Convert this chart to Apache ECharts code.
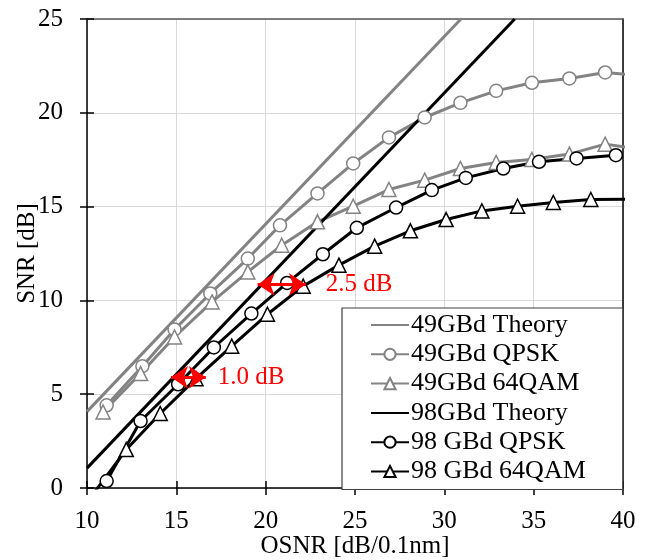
<!DOCTYPE html>
<html>
<head>
<meta charset="utf-8">
<script src="https://cdn.jsdelivr.net/npm/echarts@6/dist/echarts.min.js"></script>
<style>html,body{margin:0;padding:0;background:#fff;}#c{width:652px;height:560px;}</style>
</head>
<body>
<div id="c"></div>
<script>
// ---- data (OSNR [dB/0.1nm], SNR [dB]) ----
const seriesNames = ['49GBd Theory', '49GBd QPSK', '49GBd 64QAM', '98GBd Theory', '98 GBd QPSK', '98 GBd 64QAM'];
const theory49 = [[10, 4.07], [30.93, 25]];
const qpsk49 = [[11.1, 4.41], [13.1, 6.49], [14.9, 8.45], [16.9, 10.37], [19.0, 12.23], [20.8, 14.0], [22.9, 15.7], [24.9, 17.3], [26.9, 18.69], [28.9, 19.75], [30.9, 20.53], [32.9, 21.17], [34.9, 21.6], [37.0, 21.83], [39.0, 22.15], [41.0, 21.97]];
const qam49 = [[10.9, 4.05], [13.0, 6.1], [14.9, 8.05], [17.0, 9.92], [19.0, 11.52], [20.9, 12.94], [22.9, 14.19], [24.9, 15.02], [26.9, 15.91], [28.9, 16.41], [30.9, 17.03], [32.9, 17.35], [34.9, 17.51], [37.0, 17.8], [39.0, 18.33], [41.0, 18.05]];
const theory98 = [[10, 1.06], [33.94, 25]];
const qpsk98 = [[11.1, 0.37], [13.0, 3.57], [15.1, 5.53], [17.1, 7.49], [19.2, 9.3], [21.2, 10.93], [23.2, 12.46], [25.1, 13.87], [27.3, 14.95], [29.3, 15.88], [31.2, 16.53], [33.3, 17.03], [35.3, 17.39], [37.4, 17.57], [39.6, 17.74]];
const qam98 = [[10.2, -0.5], [12.2, 2.05], [14.1, 3.97], [16.1, 5.83], [18.1, 7.56], [20.1, 9.26], [22.1, 10.76], [24.1, 11.88], [26.1, 12.89], [28.1, 13.71], [30.1, 14.31], [32.1, 14.77], [34.1, 15.02], [36.1, 15.22], [38.2, 15.38], [40.3, 15.4]];
// penalty arrows: [x1, x2, y, label]
const arrowA = [19.55, 22.25, 10.85, '2.5 dB'];
const arrowB = [14.7, 16.65, 5.9, '1.0 dB'];
const xTicks = [10, 15, 20, 25, 30, 35, 40];
const yTicks = [0, 5, 10, 15, 20, 25];

const FONT = '"Liberation Serif", "Times New Roman", serif';
const GRAY = '#838383';
const RED = '#ff0000';

function arrowLine(a, dist) {
  return [
    { coord: [a[0], a[2]], symbol: 'arrow' },
    { coord: [a[1], a[2]], symbol: 'arrow',
      label: { show: true, position: 'end', formatter: a[3], color: RED, fontSize: 25, fontFamily: FONT, distance: dist } }
  ];
}

const chart = echarts.init(document.getElementById('c'), null, { renderer: 'canvas' });
const baseAxisLabel = { fontSize: 25, fontFamily: FONT, color: '#000' };
const noSymbolStyle = { color: 'rgba(0,0,0,0)', borderWidth: 0 };
chart.setOption({
  backgroundColor: '#fff',
  animation: false,
  grid: { left: 87, right: 29, top: 19, bottom: 72, containLabel: false, outerBoundsMode: 'none' },
  xAxis: [
    { type: 'value', min: xTicks[0], max: xTicks[xTicks.length - 1], interval: 5, position: 'bottom',
      name: 'OSNR [dB/0.1nm]', nameLocation: 'middle', nameGap: 46, nameMoveOverlap: false,
      nameTextStyle: { fontSize: 25, fontFamily: FONT, color: '#000' },
      axisLine: { show: true, onZero: false, lineStyle: { color: '#000', width: 1.5 } },
      axisTick: { show: true, length: 7, inside: false, lineStyle: { color: '#000', width: 1.5 } },
      axisLabel: Object.assign({ margin: 21 }, baseAxisLabel),
      splitLine: { show: true, lineStyle: { color: '#d9d9d9', width: 1 } } },
    { type: 'value', min: xTicks[0], max: xTicks[xTicks.length - 1], interval: 5, position: 'bottom',
      axisLine: { show: false },
      axisTick: { show: true, length: 7, inside: true, lineStyle: { color: '#000', width: 1.5 } },
      axisLabel: { show: false }, splitLine: { show: false } },
    { type: 'value', min: xTicks[0], max: xTicks[xTicks.length - 1], position: 'top',
      axisLine: { show: true, onZero: false, lineStyle: { color: '#595959', width: 1.5 } },
      axisTick: { show: false }, axisLabel: { show: false }, splitLine: { show: false } }
  ],
  yAxis: [
    { type: 'value', min: yTicks[0], max: yTicks[yTicks.length - 1], interval: 5, position: 'left',
      name: 'SNR [dB]', nameLocation: 'middle', nameGap: 47, nameRotate: 90, nameMoveOverlap: false,
      nameTextStyle: { fontSize: 25, fontFamily: FONT, color: '#000' },
      axisLine: { show: true, onZero: false, lineStyle: { color: '#000', width: 1.5 } },
      axisTick: { show: true, length: 7, inside: false, lineStyle: { color: '#000', width: 1.5 } },
      axisLabel: Object.assign({ margin: 24 }, baseAxisLabel),
      splitLine: { show: true, lineStyle: { color: '#d9d9d9', width: 1 } } },
    { type: 'value', min: yTicks[0], max: yTicks[yTicks.length - 1], interval: 5, position: 'left',
      axisLine: { show: false },
      axisTick: { show: true, length: 7, inside: true, lineStyle: { color: '#000', width: 1.5 } },
      axisLabel: { show: false }, splitLine: { show: false } },
    { type: 'value', min: yTicks[0], max: yTicks[yTicks.length - 1], position: 'right',
      axisLine: { show: true, onZero: false, lineStyle: { color: '#000', width: 1.5 } },
      axisTick: { show: false }, axisLabel: { show: false }, splitLine: { show: false } }
  ],
  legend: {
    orient: 'vertical', left: 342, top: 308,
    data: seriesNames,
    itemWidth: 38, itemHeight: 14, itemGap: 3.3,
    padding: [4, 37, 5, 28],
    backgroundColor: '#fff', borderColor: '#404040', borderWidth: 1.2,
    textStyle: { fontSize: 26, fontFamily: FONT, color: '#000', padding: [0, 0, 0, -3] }
  },
  series: [
    { name: seriesNames[0], type: 'line', data: theory49, symbol: 'none', clip: true,
      lineStyle: { color: GRAY, width: 3 }, itemStyle: noSymbolStyle },
    { name: seriesNames[1], type: 'line', data: qpsk49, symbol: 'circle', symbolSize: 13, clip: true,
      lineStyle: { color: GRAY, width: 3 }, itemStyle: { color: '#fff', borderColor: GRAY, borderWidth: 1.5 } },
    { name: seriesNames[2], type: 'line', data: qam49, symbol: 'triangle', symbolSize: 14, clip: true,
      lineStyle: { color: GRAY, width: 3 }, itemStyle: { color: '#fff', borderColor: GRAY, borderWidth: 1.5 } },
    { name: seriesNames[3], type: 'line', data: theory98, symbol: 'none', clip: true,
      lineStyle: { color: '#000', width: 3 }, itemStyle: noSymbolStyle },
    { name: seriesNames[4], type: 'line', data: qpsk98, symbol: 'circle', symbolSize: 13, clip: true,
      lineStyle: { color: '#000', width: 3 }, itemStyle: { color: '#fff', borderColor: '#000', borderWidth: 1.5 } },
    { name: seriesNames[5], type: 'line', data: qam98, symbol: 'triangle', symbolSize: 14, clip: true,
      lineStyle: { color: '#000', width: 3 }, itemStyle: { color: '#fff', borderColor: '#000', borderWidth: 1.5 },
      markLine: {
        silent: true, symbolSize: [17, 17], animation: false,
        lineStyle: { color: RED, width: 3.2, type: 'solid' },
        data: [arrowLine(arrowA, 20), arrowLine(arrowB, 12)]
      } }
  ]
});
</script>
</body>
</html>
